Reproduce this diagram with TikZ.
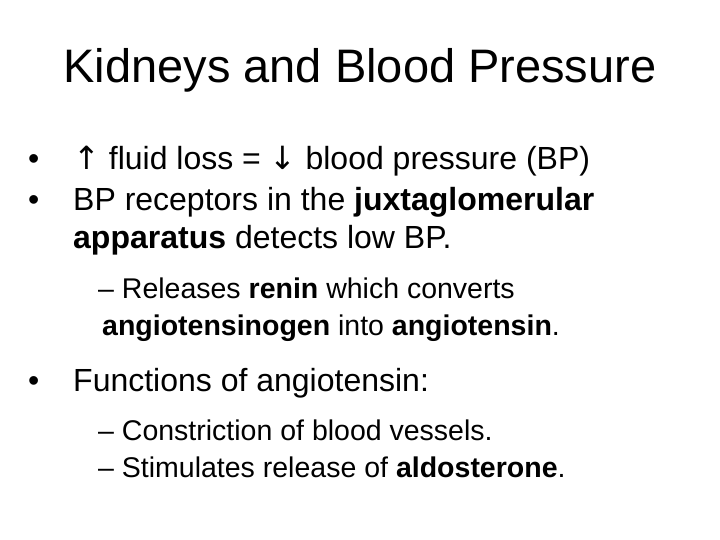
\documentclass[tikz,border=0pt]{standalone}
\usepackage{fontspec}
\setmainfont{Liberation Sans}
\newfontfamily\arrowfont{DejaVu Sans}
\begin{document}
\begin{tikzpicture}[x=1pt,y=1pt,
  txt/.style={anchor=base west,inner sep=0pt,font=\fontsize{32}{38}\selectfont},
  sub/.style={anchor=base west,inner sep=0pt,font=\fontsize{28.5}{33}\selectfont}]
\useasboundingbox (0,0) rectangle (720,540);
\node[anchor=base,inner sep=0pt,font=\fontsize{47}{54}\selectfont] (title) at (360,457) {Kidneys and Blood Pressure};
\node[txt] (b1) at (28,370) {•};
\node[txt] (t1) at (73,370) {{\arrowfont ↑} fluid loss = {\arrowfont ↓} blood pressure (BP)};
\node[txt] (b2) at (28,329) {•};
\node[txt] (t2) at (73,329) {BP receptors in the \textbf{juxtaglomerular}};
\node[txt] (t3) at (73,291) {\textbf{apparatus} detects low BP.};
\node[sub] (s1) at (98,241) {– Releases \textbf{renin} which converts};
\node[sub] (s2) at (102,204) {\textbf{angiotensinogen} into \textbf{angiotensin}.};
\node[txt] (b3) at (28,148) {•};
\node[txt] (t4) at (73,148) {Functions of angiotensin:};
\node[sub] (s3) at (98,99) {– Constriction of blood vessels.};
\node[sub] (s4) at (98,62) {– Stimulates release of \textbf{aldosterone}.};
\end{tikzpicture}
\end{document}
